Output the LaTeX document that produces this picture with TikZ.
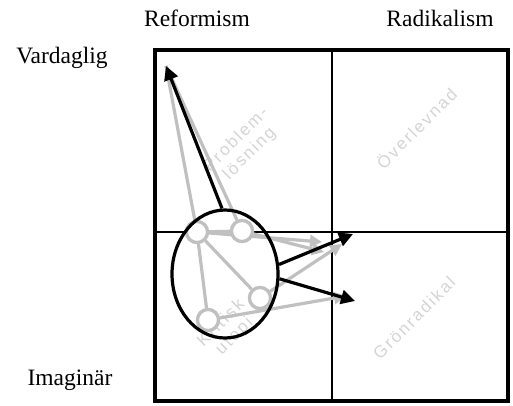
\documentclass[tikz,border=0pt]{standalone}
\usepackage{fontspec}
\setmainfont{Liberation Serif}
\newfontfamily\faintfont[LetterSpace=12]{Liberation Sans}
\usetikzlibrary{arrows.meta,shapes.geometric}
\definecolor{lgray}{RGB}{192,192,192}
\definecolor{fgray}{RGB}{212,212,212}
\tikzset{
  axislabel/.style={font=\fontsize{23.5}{26}\selectfont, inner sep=0pt},
  faint/.style={font=\faintfont\fontsize{17}{19}\selectfont, text=fgray, rotate=45, align=center, inner sep=0pt},
  smallcirc/.style={circle, draw=lgray, fill=white, line width=3.2pt, minimum size=21pt, inner sep=0pt},
  grayarrow/.style={draw=lgray, line width=3.2pt, -{Triangle[length=12pt,width=12pt]}},
  grayline/.style={draw=lgray, line width=3.2pt},
  blackarrow/.style={draw=black, line width=3.2pt, -{Triangle[length=14pt,width=14pt]}},
}
\begin{document}
\begin{tikzpicture}[x=1pt,y=-1pt]
\useasboundingbox (0,0) rectangle (513,405);
% faint quadrant labels
\node[faint] (q1) at (243,147) {Problem-\\lösning};
\node[faint] (q2) at (416,128) {Överlevnad};
\node[faint] (q3) at (228,330) {Kritisk\\utopi};
\node[faint] (q4) at (414,318) {Grönradikal};
% grid
\draw[line width=2pt] (332,50) -- (332,401);
\draw[line width=2pt] (155,232) -- (508,232);
\draw[line width=4.5pt] (155,50) rectangle (508,401);
% labels
\node[axislabel] (reform) at (197,18) {Reformism};
\node[axislabel] (radik) at (440,18) {Radikalism};
\node[axislabel] (vard) at (62,58) {Vardaglig};
\node[axislabel] (imag) at (70,380) {Imaginär};
% coordinates for free ends
\coordinate (tl) at (166,66);
\coordinate (g1) at (322,242);
\coordinate (g2) at (324,252);
\coordinate (g3) at (342,244);
\coordinate (g4) at (346,296);
\coordinate (b1) at (353,234);
\coordinate (b2) at (355,301);
% small circles (placed first for naming)
\node[smallcirc] (c1) at (197,232) {};
\node[smallcirc] (c2) at (242,231) {};
\node[smallcirc] (c3) at (260,298) {};
\node[smallcirc] (c4) at (208,320) {};
% gray connectors
\draw[grayline] (c1) -- (tl);
\draw[grayline] (c2) -- (tl);
\draw[grayline] (c1) -- (c2);
\draw[grayline] (c1) -- (c3);
\draw[grayline] (c1) -- (c4);
\draw[grayarrow] (c1) -- (g1);
\draw[grayarrow] (c2) -- (g2);
\draw[grayarrow] (c3) -- (g3);
\draw[grayarrow] (c4) -- (g4);
% redraw circles on top of the connectors
\node[smallcirc] at (c1) {};
\node[smallcirc] at (c2) {};
\node[smallcirc] at (c3) {};
\node[smallcirc] at (c4) {};
% ellipse
\node[ellipse, draw=black, line width=3.2pt, minimum width=106pt, minimum height=128pt, inner sep=0pt] (ell) at (225,274) {};
% black arrows
\draw[blackarrow] (ell.north) ++(-3,0) -- (tl);
\draw[blackarrow] (ell.10) -- (b1);
\draw[blackarrow] (ell.-5) -- (b2);
\end{tikzpicture}
\end{document}
